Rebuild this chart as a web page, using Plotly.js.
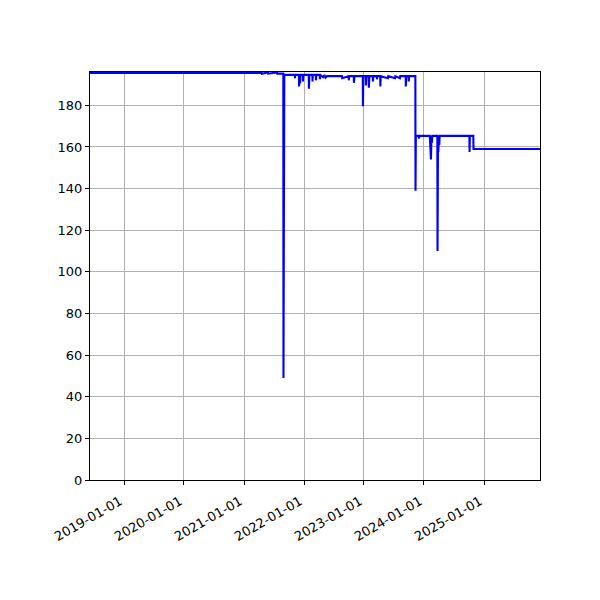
<!DOCTYPE html>
<html>
<head>
<meta charset="utf-8">
<script src="https://cdn.plot.ly/plotly-3.0.1.min.js"></script>
<style>
  body { margin: 0; background: #fff; }
  #chart { width: 600px; height: 600px; }
</style>
</head>
<body>
<div id="chart"></div>
<script>
// values
var dates = [
  '2018-06-08', '2021-04-19', '2021-04-20', '2021-05-27', '2021-05-28', '2021-07-21', '2021-07-22',
  '2021-08-28', '2021-08-29', '2021-08-31', '2021-09-03', '2021-11-06', '2021-11-07', '2021-11-09',
  '2021-12-01', '2021-12-02', '2021-12-05', '2021-12-08', '2021-12-10', '2021-12-25', '2021-12-26',
  '2021-12-28', '2022-01-30', '2022-01-31', '2022-02-03', '2022-02-21', '2022-02-22', '2022-02-24',
  '2022-03-14', '2022-03-15', '2022-03-17', '2022-04-07', '2022-04-08', '2022-04-10', '2022-04-27',
  '2022-05-05', '2022-05-12', '2022-05-21', '2022-08-20', '2022-08-22', '2022-09-30', '2022-10-01',
  '2022-10-03', '2022-10-31', '2022-11-01', '2022-11-04', '2022-12-25', '2022-12-26', '2022-12-28',
  '2023-01-12', '2023-01-13', '2023-01-16', '2023-01-30', '2023-01-31', '2023-02-03', '2023-02-24',
  '2023-02-25', '2023-02-27', '2023-03-20', '2023-03-21', '2023-03-23', '2023-04-10', '2023-04-11',
  '2023-04-13', '2023-05-27', '2023-05-29', '2023-07-09', '2023-07-11', '2023-08-08', '2023-08-10',
  '2023-09-12', '2023-09-13', '2023-09-16', '2023-09-30', '2023-10-01', '2023-10-03', '2023-11-10',
  '2023-11-11', '2023-11-13', '2023-12-01', '2023-12-02', '2023-12-04', '2024-02-06', '2024-02-07',
  '2024-02-10', '2024-02-13', '2024-02-16', '2024-02-19', '2024-02-21', '2024-03-23', '2024-03-24',
  '2024-03-27', '2024-03-29', '2024-04-01', '2024-04-04', '2024-04-06', '2024-10-04', '2024-10-05',
  '2024-10-07', '2024-10-28', '2024-10-29', '2025-12-08'
];
var values = [
  195.6, 195.6, 195.2, 195.8, 195.2, 195.8, 195.2,
  195.2, 49, 193.5, 194.6, 194.6, 193, 194.6,
  194.6, 189, 194, 190.5, 194.6, 194.6, 191.5,
  194.6, 194.6, 188, 194.6, 194.6, 191.5, 194.6,
  194.6, 192, 194.6, 194.6, 192.5, 194.6, 193.5,
  194.6, 193.3, 194, 194, 193, 194, 192,
  194, 194, 190.8, 194, 194, 179.5, 194,
  194, 189.5, 194, 194, 188.5, 194, 194,
  191.5, 194, 194, 192.5, 194, 194, 189,
  194, 193, 194, 193, 194, 193, 194,
  194, 189, 194, 194, 191.5, 194, 194,
  139, 165.3, 165.3, 164, 165.3, 165.3, 161,
  165.3, 154, 165.3, 162, 165.3, 165.3, 110,
  165.3, 157.6, 165.3, 161, 165.3, 165.3, 157.6,
  165.3, 165.3, 159, 159
];
var yTicks = [0, 20, 40, 60, 80, 100, 120, 140, 160, 180];

var trace = {
  x: dates,
  y: values,
  type: 'scatter',
  mode: 'lines',
  line: { color: '#0000ff', width: 2.1 },
  hoverinfo: 'x+y'
};

var layout = {
  width: 600,
  height: 600,
  margin: { l: 90, r: 60, t: 72, b: 120 },
  paper_bgcolor: '#ffffff',
  plot_bgcolor: '#ffffff',
  showlegend: false,
  font: { family: 'DejaVu Sans, sans-serif', size: 13, color: '#000' },
  xaxis: {
    type: 'date',
    range: ['2018-06-08', '2025-12-08'],
    tick0: '2019-01-01',
    dtick: 'M12',
    tickformat: '%Y-%m-%d',
    tickangle: -30,
    ticks: 'outside',
    ticklen: 4,
    tickcolor: '#000',
    ticklabelstandoff: 4,
    ticklabelshift: -4,
    showline: true,
    linecolor: '#000',
    linewidth: 1,
    mirror: true,
    showgrid: true,
    gridcolor: '#b0b0b0',
    gridwidth: 1,
    zeroline: false
  },
  yaxis: {
    range: [0, 196],
    tickvals: yTicks,
    ticks: 'outside',
    ticklen: 4,
    tickcolor: '#000',
    showline: true,
    linecolor: '#000',
    linewidth: 1,
    mirror: true,
    showgrid: true,
    gridcolor: '#b0b0b0',
    gridwidth: 1,
    zeroline: false
  }
};

Plotly.newPlot('chart', [trace], layout, { displayModeBar: false, staticPlot: true });
</script>
</body>
</html>
